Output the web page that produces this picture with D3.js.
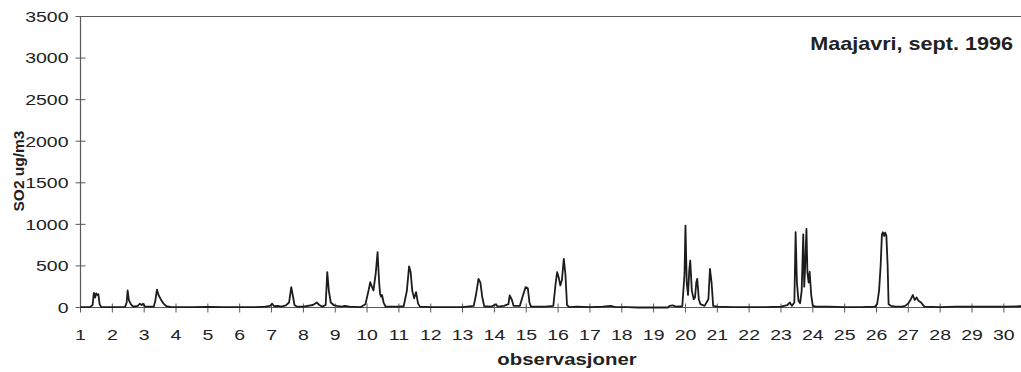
<!DOCTYPE html>
<html>
<head>
<meta charset="utf-8">
<script src="https://cdn.jsdelivr.net/npm/d3@7"></script>
<style>
  html, body { margin: 0; padding: 0; background: #fff; }
  svg { display: block; font-family: "Liberation Sans", Arial, sans-serif; }
</style>
</head>
<body>
<svg id="chart" width="1021" height="372"></svg>
<script>
// SO2 at Maajavri, September 1996 — time in days of the month, values in ug/m3
const obsDay = [
  1.00, 1.30, 1.38, 1.42, 1.46, 1.49, 1.53, 1.56, 1.60, 1.65,
  2.00, 2.40, 2.45, 2.48, 2.52, 2.58, 2.65, 2.80, 2.86, 2.92, 2.97, 3.02,
  3.30, 3.35, 3.40, 3.45, 3.52, 3.60, 3.70, 3.85,
  4.00, 4.50, 5.00, 5.50, 6.00, 6.50, 6.80, 6.95, 7.02, 7.08, 7.20, 7.30,
  7.45, 7.55, 7.62, 7.68, 7.72, 7.80, 8.00, 8.30, 8.42, 8.50, 8.60, 8.70,
  8.75, 8.80, 8.86, 8.95, 9.05, 9.20, 9.30, 9.45, 9.80, 9.95,
  10.05, 10.10, 10.15, 10.20, 10.27, 10.33, 10.38, 10.41, 10.44, 10.47, 10.52, 10.58,
  10.80, 11.00, 11.15, 11.25, 11.32, 11.37, 11.42, 11.48, 11.54, 11.60, 11.66,
  12.00, 12.50, 13.00, 13.35, 13.42, 13.50, 13.56, 13.62, 13.68, 13.90,
  14.05, 14.10, 14.30, 14.44, 14.48, 14.55, 14.60, 14.80, 14.90, 14.98, 15.05, 15.10, 15.15,
  15.60, 15.85, 15.92, 15.97, 16.02, 16.07, 16.12, 16.18, 16.23, 16.28, 16.35,
  16.60, 17.00, 17.40, 17.65, 17.80, 18.20, 18.50, 19.45, 19.50, 19.60, 19.70, 19.90,
  19.97, 20.00, 20.04, 20.08, 20.12, 20.15, 20.20, 20.26, 20.30, 20.34, 20.37, 20.42, 20.47,
  20.60, 20.72, 20.77, 20.82, 20.87, 21.00, 21.50, 22.00, 22.50, 23.00, 23.20, 23.28, 23.34,
  23.42, 23.46, 23.50, 23.55, 23.60, 23.65, 23.70, 23.73, 23.76, 23.80, 23.83, 23.87, 23.90, 23.95, 24.00,
  24.10, 24.50, 25.00, 25.50, 25.95, 26.02, 26.08, 26.13, 26.17, 26.20, 26.24, 26.27, 26.31, 26.35, 26.38, 26.45,
  26.60, 26.80, 26.90, 27.00, 27.08, 27.14, 27.20, 27.26, 27.32, 27.40, 27.50,
  28.00, 28.50, 29.00, 29.50, 30.00, 30.50, 31.00
];
const so2Values = [
  5, 5, 30, 175, 120, 170, 150, 160, 40, 5,
  5, 8, 60, 205, 90, 40, 10, 20, 45, 30, 45, 10,
  10, 80, 215, 150, 100, 50, 15, 5,
  5, 5, 8, 5, 5, 5, 10, 20, 45, 15, 20, 10,
  25, 60, 245, 120, 30, 10, 10, 30, 60, 30, 10, 30,
  425, 200, 60, 30, 20, 10, 20, 10, 5, 40,
  210, 305, 250, 205, 400, 665, 300, 160, 130, 150, 60, 10,
  10, 10, 15, 200, 495, 420, 200, 110, 185, 50, 10,
  5, 5, 5, 20, 150, 345, 300, 120, 15, 10,
  40, 10, 20, 40, 145, 90, 20, 20, 150, 245, 230, 60, 10,
  10, 20, 280, 425, 360, 265, 330, 585, 400, 30, 5,
  10, 5, 10, 20, 5, 5, 0, 0, 20, 25, 10, 15,
  400, 985, 300, 150, 450, 565, 200, 100, 120, 300, 345, 100, 40,
  20, 100, 465, 300, 20, 10, 5, 5, 5, 10, 30, 60, 20,
  60, 905, 300, 80, 50, 200, 880, 250, 500, 945, 420, 300, 430, 150, 20,
  10, 10, 5, 5, 10, 40, 200, 500, 880, 905, 860, 900, 865, 500, 40, 20,
  10, 10, 20, 50, 100, 150, 90, 120, 80, 60, 10,
  5, 10, 10, 10, 10, 15, 15
];
const dayTicks = d3.range(1, 31);
const yTicks = [0, 500, 1000, 1500, 2000, 2500, 3000, 3500];
const chartTitle = "Maajavri, sept. 1996";
const xTitle = "observasjoner";
const yTitle = "SO2 ug/m3";

const W = 1021, H = 372;
const svg = d3.select("#chart");

const x = d3.scaleLinear().domain([1, 31]).range([80.5, 80.5 + 30 * 31.84]);
const y = d3.scaleLinear().domain([0, 3500]).range([307.5, 16.5]);

const axisColor = "#5a5a5a";
const textColor = "#222";
const stretch = 1.3;

// top frame line
svg.append("line")
  .attr("x1", x(1)).attr("x2", W)
  .attr("y1", y(3500)).attr("y2", y(3500))
  .attr("stroke", axisColor).attr("stroke-width", 1.2);

// y axis
const yAxis = svg.append("g").attr("transform", `translate(${x(1)},0)`);
yAxis.append("line")
  .attr("y1", y(0)).attr("y2", y(3500))
  .attr("stroke", axisColor).attr("stroke-width", 1.2);
yAxis.selectAll("line.tick").data(yTicks).join("line")
  .attr("class", "tick")
  .attr("x1", -5).attr("x2", 5)
  .attr("y1", d => y(d)).attr("y2", d => y(d))
  .attr("stroke", axisColor).attr("stroke-width", 1);
svg.selectAll("text.ylab").data(yTicks).join("text")
  .attr("class", "ylab")
  .attr("transform", d => `translate(68.5,${y(d)}) scale(${stretch},1)`)
  .attr("dy", "0.36em")
  .attr("text-anchor", "end")
  .attr("font-size", 15)
  .attr("fill", textColor)
  .text(d => d);

// x axis
svg.append("line")
  .attr("x1", x(1)).attr("x2", W)
  .attr("y1", y(0)).attr("y2", y(0))
  .attr("stroke", axisColor).attr("stroke-width", 1.2);
svg.selectAll("line.xtick").data(dayTicks).join("line")
  .attr("class", "xtick")
  .attr("x1", d => x(d)).attr("x2", d => x(d))
  .attr("y1", y(0) - 4).attr("y2", y(0) + 5)
  .attr("stroke", axisColor).attr("stroke-width", 1);
svg.selectAll("text.xlab").data(dayTicks).join("text")
  .attr("class", "xlab")
  .attr("transform", d => `translate(${x(d)},340) scale(${stretch},1)`)
  .attr("text-anchor", "middle")
  .attr("font-size", 15)
  .attr("fill", textColor)
  .text(d => d);

// SO2 trace
const series = obsDay.map((t, i) => [t, so2Values[i]]);
svg.append("path")
  .datum(series)
  .attr("fill", "none")
  .attr("stroke", "#1c1c1c")
  .attr("stroke-width", 1.8)
  .attr("stroke-linejoin", "round")
  .attr("d", d3.line().x(d => x(d[0])).y(d => y(d[1])));

// titles
svg.append("text")
  .attr("transform", `translate(1013,49.5) scale(1.2,1)`)
  .attr("text-anchor", "end")
  .attr("font-size", 18)
  .attr("font-weight", "bold")
  .attr("fill", textColor)
  .text(chartTitle);

svg.append("text")
  .attr("transform", `translate(567,365) scale(1.2,1)`)
  .attr("text-anchor", "middle")
  .attr("font-size", 17)
  .attr("font-weight", "bold")
  .attr("fill", textColor)
  .text(xTitle);

svg.append("text")
  .attr("transform", `translate(24,171) rotate(-90)`)
  .attr("text-anchor", "middle")
  .attr("font-size", 15.5)
  .attr("font-weight", "bold")
  .attr("fill", textColor)
  .text(yTitle);
</script>
</body>
</html>
